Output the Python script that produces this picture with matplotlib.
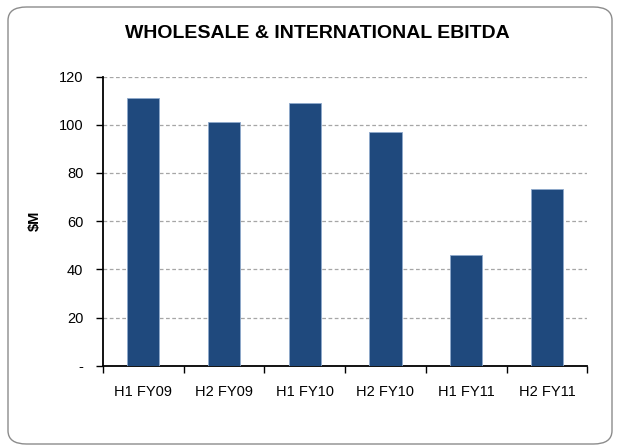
import matplotlib
matplotlib.use("Agg")
import matplotlib.pyplot as plt
from matplotlib.patches import FancyBboxPatch

# data
periods = ["H1 FY09", "H2 FY09", "H1 FY10", "H2 FY10", "H1 FY11", "H2 FY11"]
ebitda = [111.2, 101.3, 109.0, 96.9, 46.0, 73.2]
yticks = [0, 20, 40, 60, 80, 100, 120]
ytick_labels = ["-", "20", "40", "60", "80", "100", "120"]

plt.rcParams['font.family'] = ['Liberation Sans', 'DejaVu Sans']

fig = plt.figure(figsize=(6.19, 4.45), dpi=100)

# rounded frame around the whole chart
frame = FancyBboxPatch((8 / 619, 1 - 444 / 445), 604 / 619, 437 / 445,
                       boxstyle="round,pad=0,rounding_size=0.03",
                       transform=fig.transFigure, facecolor="white",
                       edgecolor="#8c8c8c", linewidth=1.0, zorder=-5)
fig.patches.append(frame)

ax = fig.add_axes([0.166, 0.178, 0.783, 0.650])
ax.set_facecolor("none")

x = range(len(periods))
ax.bar(x, ebitda, width=0.4, color="#1f497d", edgecolor="#8ea9cc",
       linewidth=0.6, zorder=3)

ax.set_xlim(-0.5, len(periods) - 0.5)
ax.set_ylim(0, 120)
ax.set_yticks(yticks)
ax.set_yticklabels(ytick_labels, fontsize=10.5)
ax.set_xticks(list(x))
ax.set_xticklabels(periods, fontsize=10.5)
ax.tick_params(axis="x", length=0, pad=14)
ax.set_xticks([i - 0.5 for i in range(len(periods) + 1)], minor=True)
ax.tick_params(axis="x", which="minor", length=5, width=1, direction="out")
ax.tick_params(axis="y", length=5, width=1, direction="out", pad=9)

ax.yaxis.grid(True, linestyle=(0, (3, 2)), color="#a6a6a6", linewidth=0.9, zorder=0)
ax.set_axisbelow(True)

for s in ["top", "right"]:
    ax.spines[s].set_visible(False)
ax.spines["left"].set_linewidth(1.3)
ax.spines["bottom"].set_linewidth(1.3)

ax.set_ylabel("$M", fontsize=10.5, fontweight="bold", labelpad=12)

fig.text(317 / 619, 1 - 33 / 445, "WHOLESALE & INTERNATIONAL EBITDA",
         ha="center", va="center", fontsize=14, fontweight="bold")

fig.savefig("out.png", dpi=100)
